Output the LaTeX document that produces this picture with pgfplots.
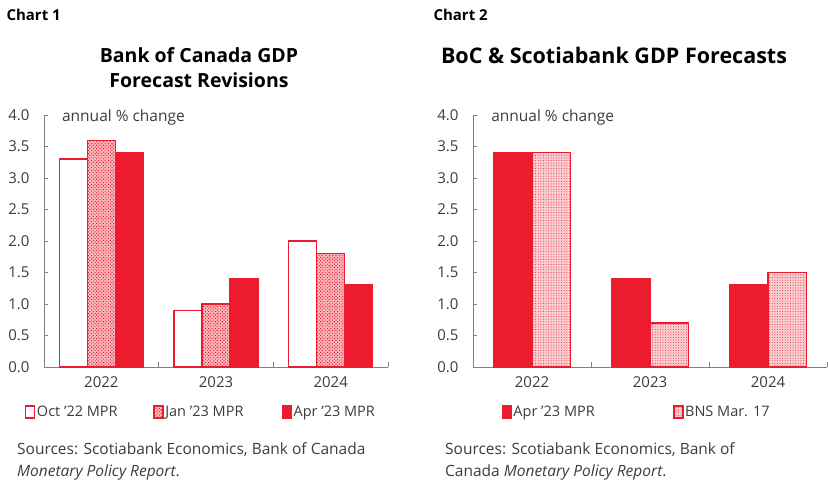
\documentclass[border=0pt]{standalone}
\usepackage{fontspec}
\setmainfont{Open Sans}
\usepackage{pgfplots}
\pgfplotsset{compat=1.18}
\usetikzlibrary{patterns.meta}

\definecolor{sred}{RGB}{236,28,46}
\definecolor{axgray}{RGB}{128,128,128}
\definecolor{txt}{RGB}{60,60,60}

\newcommand{\sz}[1]{\fontsize{#1bp}{#1bp}\selectfont}
\newcommand{\legbox}[1]{\makebox[93bp][l]{#1}}

\pgfplotsset{
  gdp/.style={
    scale only axis,
    height=252bp,
    ymin=0, ymax=4,
    xmin=-0.5, xmax=2.5,
    ybar=0pt,
    axis x line*=bottom,
    axis y line*=left,
    axis line style={-, draw=axgray, line width=0.9bp},
    tick align=inside,
    major tick length=4bp,
    minor tick length=5bp,
    tick style={draw=axgray, line width=0.9bp},
    major x tick style={draw=none},
    xtick={0,1,2},
    xticklabels={2022,2023,2024},
    minor xtick={0.5,1.5,2.5},
    ytick={0,0.5,1,1.5,2,2.5,3,3.5,4},
    yticklabels={0.0,0.5,1.0,1.5,2.0,2.5,3.0,3.5,4.0},
    ticklabel style={font=\sz{15}, text=txt},
    yticklabel style={xshift=-11bp},
    xticklabel style={yshift=-6bp},
    legend style={draw=none, fill=none, font=\sz{14.5}, text=txt,
      legend columns=-1, nodes={inner sep=1.5bp}, anchor=west},
    legend image code/.code={\draw[#1, line width=1.3bp] (0bp,-6bp) rectangle (9bp,6bp);},
    clip=false,
  },
}

\begin{document}
\begin{tikzpicture}[x=1bp,y=1bp]
\useasboundingbox (0,0) rectangle (828,-483);
\coordinate (O1) at (44,-367);
\coordinate (O2) at (473,-367);

% ---- Chart 1 ----
\node[anchor=west, font=\bfseries\sz{15}] at (3,-15) {Chart 1};
\node[font=\bfseries\sz{19.5}] at (199,-55) {Bank of Canada GDP};
\node[font=\bfseries\sz{19.5}] at (199,-80) {Forecast Revisions};

\begin{axis}[gdp,
  width=344bp,
  at={(O1)}, anchor=south west,
  bar width=0.245,
  legend style={at={(axis description cs:-0.064,-0.179)},
    /tikz/every even column/.append style={column sep=22bp}},
]
\addplot[draw=sred, fill=white, line width=1.3bp]
  coordinates {(0,3.3) (1,0.9) (2,2.0)};
\addlegendentry{\legbox{Oct '22 MPR}}
\addplot[draw=sred, fill=sred!30, line width=1.3bp,
  postaction={pattern={Dots[distance=2.4bp, radius=0.75bp, angle=45]}, pattern color=sred}]
  coordinates {(0,3.6) (1,1.0) (2,1.8)};
\addlegendentry{\legbox{Jan '23 MPR}}
\addplot[draw=sred, fill=sred, line width=1.3bp]
  coordinates {(0,3.4) (1,1.4) (2,1.3)};
\addlegendentry{Apr '23 MPR}
\node[anchor=west, font=\sz{15.5}, text=txt, inner sep=0pt] at (axis description cs:0.052,0.99) {annual \% change};
\end{axis}

\node[anchor=west, font=\sz{15.5}, text=txt, inner sep=0pt] at (17,-450) {Sources: Scotiabank Economics, Bank of Canada};
\node[anchor=west, font=\sz{15.5}, text=txt, inner sep=0pt] at (17,-472) {\textit{Monetary Policy Report}.};

% ---- Chart 2 ----
\node[anchor=west, font=\bfseries\sz{15}] at (430,-15) {Chart 2};
\node[font=\bfseries\sz{21.5}] at (614,-55) {BoC \& Scotiabank GDP Forecasts};

\begin{axis}[gdp,
  width=354bp,
  at={(O2)}, anchor=south west,
  bar width=0.325,
  legend style={at={(axis description cs:0.072,-0.179)},
    /tikz/every even column/.append style={column sep=77bp}},
]
\addplot[draw=sred, fill=sred, line width=1.3bp]
  coordinates {(0,3.4) (1,1.4) (2,1.3)};
\addlegendentry{Apr '23 MPR}
\addplot[draw=sred, fill=sred!22, line width=1.3bp,
  postaction={pattern={Dots[distance=2.6bp, radius=0.5bp]}, pattern color=sred}]
  coordinates {(0,3.41) (1,0.7) (2,1.5)};
\addlegendentry{BNS Mar. 17}
\node[anchor=west, font=\sz{15.5}, text=txt, inner sep=0pt] at (axis description cs:0.051,0.99) {annual \% change};
\end{axis}

\node[anchor=west, font=\sz{15.5}, text=txt, inner sep=0pt] at (445,-450) {Sources: Scotiabank Economics, Bank of};
\node[anchor=west, font=\sz{15.5}, text=txt, inner sep=0pt] at (445,-472) {Canada \textit{Monetary Policy Report}.};
\end{tikzpicture}
\end{document}
